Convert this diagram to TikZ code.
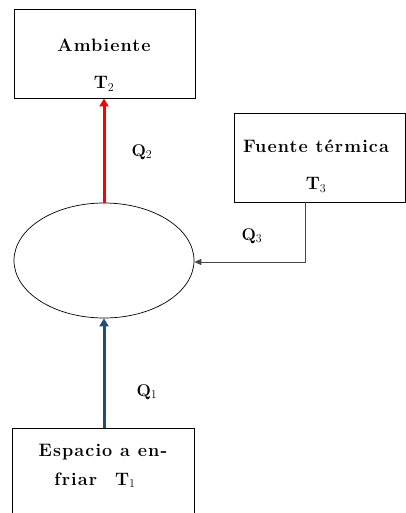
\documentclass[tikz,border=0pt]{standalone}
\usepackage{fontspec}
\setmainfont{Latin Modern Roman}[LetterSpace=6]
\usetikzlibrary{arrows.meta,shapes.geometric}
\definecolor{hotred}{HTML}{FF0000}
\definecolor{deepblue}{HTML}{1F4E79}
\definecolor{linegray}{HTML}{444444}
\begin{document}
\begin{tikzpicture}[x=1pt,y=-1pt,
  boxstyle/.style={draw=black,line width=0.9pt,minimum width=181pt,inner sep=0pt},
  lbl/.style={font=\fontsize{18}{20}\selectfont\bfseries,inner sep=0pt},
  qlbl/.style={font=\fontsize{17}{19}\selectfont\bfseries,inner sep=0pt}]
\useasboundingbox (0,0) rectangle (406,513);
% boxes
\node[boxstyle,minimum height=89pt] (amb) at (104.5,53.5) {};
\node[boxstyle,minimum width=171pt,minimum height=89pt] (fue) at (319.5,157.5) {};
\node[boxstyle,minimum width=182pt,minimum height=110pt] (esp) at (103,483) {};
\node[draw=black,line width=0.7pt,ellipse,minimum width=180pt,minimum height=115pt,inner sep=0pt] (ell) at (104,260.5) {};
% texts
\node[lbl] (ambt) at (104,45) {Ambiente};
\node[lbl] (ambT) at (104,84) {$\mathbf{T}_{2}$};
\node[lbl] (fuet) at (316,146) {Fuente térmica};
\node[lbl] (fueT) at (316,185) {$\mathbf{T}_{3}$};
\node[lbl] (espt) at (103,452) {Espacio a en-};
\node[lbl] (espT) at (95,480) {friar\quad $\mathbf{T}_{1}$};
\node[qlbl] (q2) at (142,152) {$\mathbf{Q}_{2}$};
\node[qlbl] (q3) at (252,236) {$\mathbf{Q}_{3}$};
\node[qlbl] (q1) at (147,392) {$\mathbf{Q}_{1}$};
% connectors
\coordinate (cornr) at (305,262);
\draw[hotred,line width=3pt,-{Triangle[length=8pt,width=9pt]}] (ell.north) -- (amb.south -| ell.north);
\draw[deepblue,line width=3pt,-{Triangle[length=8pt,width=9pt]}] (esp.north -| ell.south) -- (ell.south);
\draw[linegray,line width=1pt,-{Triangle[length=7pt,width=6pt]}] (fue.south -| cornr) -- (cornr) -- (ell.east |- cornr);
\end{tikzpicture}
\end{document}
